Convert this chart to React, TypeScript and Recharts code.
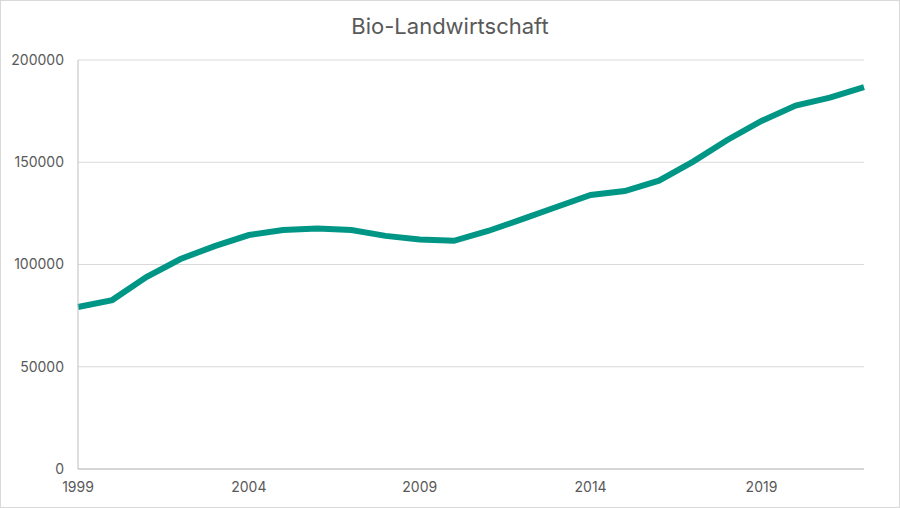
import { LineChart, Line, XAxis, YAxis, CartesianGrid } from 'recharts';

const YEARS = [
  1999, 2000, 2001, 2002, 2003, 2004, 2005, 2006, 2007, 2008, 2009, 2010,
  2011, 2012, 2013, 2014, 2015, 2016, 2017, 2018, 2019, 2020, 2021, 2022,
];
const FARMS = [
  79200, 82600, 93900, 102700, 109000, 114400, 116900, 117600, 116900, 114000, 112200, 111600,
  116400, 122200, 128100, 134000, 135900, 141000, 150300, 160900, 170200, 177700, 181600, 186700,
];
const X_TICKS = [1999, 2004, 2009, 2014, 2019];
const Y_TICKS = [0, 50000, 100000, 150000, 200000];

const data = YEARS.map((year, i) => ({ year, value: FARMS[i] }));

const FONT = 'Inter, "Noto Sans", sans-serif';
const tick = { fontSize: 14, fill: '#595959', fontFamily: FONT };

export default function App() {
  return (
    <div
      style={{
        position: 'absolute',
        left: 0,
        top: 0,
        width: 900,
        height: 508,
        boxSizing: 'border-box',
        border: '1px solid #d9d9d9',
        background: '#fff',
      }}
    >
      <div
        style={{
          position: 'absolute',
          top: 12,
          left: 0,
          width: 898,
          textAlign: 'center',
          fontFamily: FONT,
          fontSize: 22,
          color: '#595959',
        }}
      >
        Bio-Landwirtschaft
      </div>
      <LineChart
        width={898}
        height={506}
        data={data}
        margin={{ top: 59, right: 35, bottom: 8, left: 0 }}
      >
        <CartesianGrid vertical={false} stroke="#d9d9d9" />
        <XAxis
          dataKey="year"
          type="number"
          domain={[1999, 2022]}
          ticks={X_TICKS}
          height={30}
          tick={tick}
          tickLine={false}
          tickSize={0}
          tickMargin={13}
          axisLine={{ stroke: '#bfbfbf' }}
        />
        <YAxis
          domain={[0, 200000]}
          ticks={Y_TICKS}
          width={77}
          tick={tick}
          tickLine={false}
          tickSize={0}
          tickMargin={14}
          axisLine={{ stroke: '#bfbfbf' }}
        />
        <Line
          type="linear"
          dataKey="value"
          stroke="#009686"
          strokeWidth={6}
          dot={false}
          isAnimationActive={false}
        />
      </LineChart>
    </div>
  );
}
